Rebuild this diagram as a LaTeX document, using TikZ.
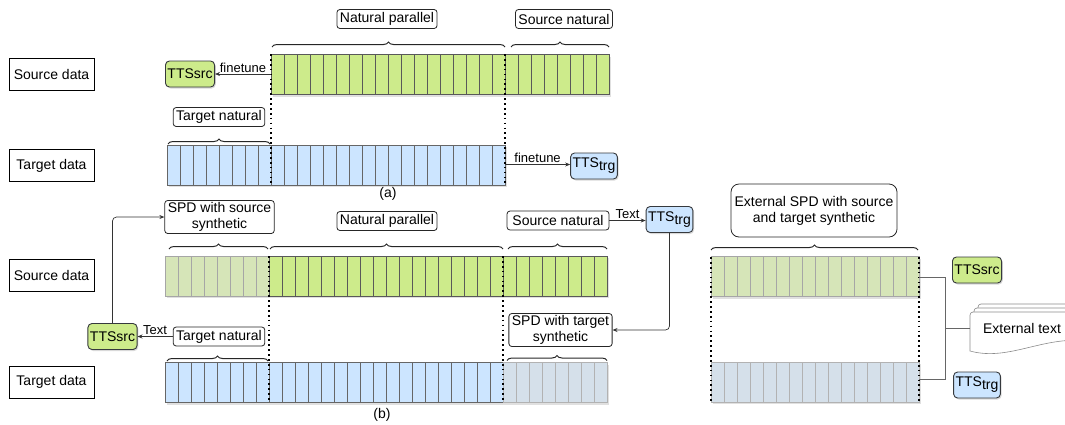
\documentclass[tikz,border=0pt]{standalone}
\usepackage{fontspec}
\setmainfont{Liberation Sans}
\usetikzlibrary{arrows.meta,decorations.pathreplacing,shadows}

\definecolor{srcgreen}{HTML}{CDEB8B}
\definecolor{palegreen}{HTML}{D6E5B8}
\definecolor{trgblue}{HTML}{CCE5FF}
\definecolor{paleblue}{HTML}{D5E0EA}
\definecolor{edgegray}{HTML}{36393D}

% one row of n cells, top left at (x,y)
\newcommand{\cellrow}[4]{%
  \fill[black!12] ({#1+1.5},{#2+2}) rectangle ++({#3*13},40);
  \foreach \i in {1,...,#3}{\draw[#4] ({#1+(\i-1)*13},#2) rectangle ++(13,40);}}

\begin{document}
\begin{tikzpicture}[x=1pt,y=-1pt,font=\fontsize{14}{16}\selectfont,
  databox/.style={draw, line width=0.8pt, minimum width=85pt, minimum height=32pt},
  tagbox/.style={draw=black!85, line width=0.8pt, fill=white, rounded corners=3pt, inner xsep=3pt, inner ysep=2pt, minimum height=19pt, align=center},
  ttsnode/.style={draw=edgegray, rounded corners=4pt, line width=0.9pt, inner xsep=2pt, minimum height=26pt, drop shadow={shadow xshift=1.2pt, shadow yshift=-1.5pt, opacity=0.3}},
  cellgreen/.style={fill=srcgreen, draw=black!65, line width=0.6pt},
  cellpalegreen/.style={fill=palegreen, draw=black!35, line width=0.6pt},
  cellblue/.style={fill=trgblue, draw=black!60, line width=0.6pt},
  cellpaleblue/.style={fill=paleblue, draw=black!30, line width=0.6pt},
  bracket/.style={decorate, decoration={brace, amplitude=5pt}, draw=black!85, line width=1pt},
  splitline/.style={line width=1.7pt, dash pattern=on 1.7pt off 3.2pt},
  link/.style={-{Stealth[length=5pt,width=4pt]}, draw=black!80, line width=0.7pt},
  plainlink/.style={draw=black!60, line width=0.7pt},
  linklabel/.style={font=\fontsize{13}{15}\selectfont, above, inner sep=1.5pt}]
  \useasboundingbox (0,0) rectangle (1065,424);

  % (a)
  \node[databox] (srca) at (51.5,74) {Source data};
  \node[databox] (trga) at (51.5,165.5) {Target data};
  \cellrow{271}{54.5}{26}{cellgreen}
  \cellrow{167}{145}{26}{cellblue}
  \draw[splitline] (271,54) -- (271,185);
  \draw[splitline] (505,54) -- (505,185);
  \draw[bracket] (272,47) -- (505,47);
  \draw[bracket] (511,47) -- (609,47);
  \draw[bracket] (168,144) -- (270,144);
  \node[tagbox] (natpara) at (387,19) {Natural parallel};
  \node[tagbox] (srcnata) at (564,19) {Source natural};
  \node[tagbox] (trgnata) at (219,117) {Target natural};
  \node[ttsnode, fill=srcgreen] (ttssrca) at (190,74) {TTSsrc};
  \node[ttsnode, fill=trgblue] (ttstrga) at (594,166) {TTS\raisebox{-3pt}{trg}};
  \coordinate (fta) at (271,74);
  \coordinate (ftb) at (505,164.5);
  \draw[link] (fta) -- (ttssrca.east) node[linklabel, midway] {finetune};
  \draw[link] (ftb) -- (ftb -| ttstrga.west) node[linklabel, midway] {finetune};
  \node (capa) at (388,194) {(a)};

  % (b)
  \node[databox] (srcb) at (51.5,275.5) {Source data};
  \node[databox] (trgb) at (51.5,382.3) {Target data};
  \cellrow{165}{256}{8}{cellpalegreen}
  \cellrow{269}{256}{26}{cellgreen}
  \cellrow{165}{362.5}{26}{cellblue}
  \cellrow{503}{362.5}{8}{cellpaleblue}
  \draw[splitline] (269,256) -- (269,402);
  \draw[splitline] (503,256) -- (503,402);
  \draw[bracket] (169,249) -- (268,249);
  \draw[bracket] (270,249) -- (503,249);
  \draw[bracket] (508,249) -- (607,249);
  \draw[bracket] (167,361) -- (268,361);
  \draw[bracket] (507,360.5) -- (607,360.5);
  \node[tagbox] (spdsrc) at (219.5,217) {SPD with source\\synthetic};
  \node[tagbox] (natparb) at (387,221) {Natural parallel};
  \node[tagbox, minimum width=102pt] (srcnatb) at (558,220.5) {Source natural};
  \node[tagbox] (trgnatb) at (219,336.5) {Target natural};
  \node[tagbox] (spdtrg) at (560.5,330) {SPD with target\\synthetic};
  \node[ttsnode, fill=srcgreen] (ttssrcb) at (112.5,336.5) {TTSsrc};
  \node[ttsnode, fill=trgblue] (ttstrgb) at (669.5,219.5) {TTS\raisebox{-3pt}{trg}};
  \draw[link] (srcnatb.east) -- (srcnatb.east -| ttstrgb.west) node[linklabel, midway] {Text};
  \draw[link, rounded corners=4pt] (ttstrgb.south) |- (spdtrg.east);
  \draw[link] (trgnatb.west) -- (ttssrcb.east) node[linklabel, midway] {Text};
  \draw[link, rounded corners=4pt] (ttssrcb.north) |- (spdsrc.west);
  \node (capb) at (382,415) {(b)};

  % external SPD
  \cellrow{711}{256.5}{16}{cellpalegreen}
  \cellrow{711}{362}{16}{cellpaleblue}
  \draw[splitline] (711,257) -- (711,402);
  \draw[splitline] (919,257) -- (919,402);
  \draw[bracket] (711,250) -- (918,250);
  \node[tagbox, rounded corners=8pt, minimum width=166pt, minimum height=53pt] (extspd) at (814,210.5) {External SPD with source\\and target synthetic};
  \node[ttsnode, fill=srcgreen] (ttssrcc) at (977,270) {TTSsrc};
  \node[ttsnode, fill=trgblue] (ttstrgc) at (977,385) {TTS\raisebox{-3pt}{trg}};
  \begin{scope}
    \clip (0,0) rectangle (1065,424);
    \foreach \d in {8,4,0}{
      \draw[black!45, fill=white, line width=0.6pt, rounded corners=3pt]
        ({970+\d},{351-\d}) -- ({970+\d},{312-\d}) -- ({1095},{312-\d}) -- ({1095},{342-\d})
        [sharp corners] .. controls (1045,{334-\d}) and (1010,{362-\d}) .. ({970+\d},{351-\d}) -- cycle;}
  \end{scope}
  \node[minimum width=104pt] (exttext) at (1022,328.3) {External text};
  \coordinate (gext) at (919,277);
  \coordinate (bext) at (919,379);
  \coordinate (junc) at (945,328.3);
  \draw[plainlink] (gext) -| (junc) |- (bext);
  \draw[plainlink] (junc) -- (exttext.west);
\end{tikzpicture}
\end{document}
